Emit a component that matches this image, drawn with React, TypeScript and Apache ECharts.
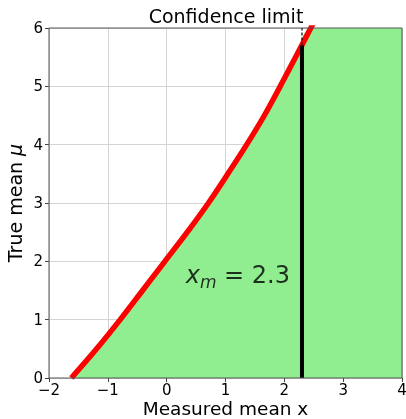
import React, { useEffect, useRef } from "react";
import * as echarts from "echarts";

// Upper confidence limit on the true mean μ as a function of measured mean x
const beltX = [-1.62, -1.19, -0.79, -0.41, -0.03, 0.35, 0.71, 1.04, 1.36, 1.66, 1.93, 2.19, 2.45, 2.65];
const beltMu = [0, 0.5, 1, 1.5, 2, 2.5, 3, 3.5, 4, 4.5, 5, 5.5, 6, 6.4];

// Measured value and where its vertical line meets the belt
const xm = 2.3;
const muAtXm = 5.7;

const xTicks = [-2, -1, 0, 1, 2, 3, 4];
const yTicks = [0, 1, 2, 3, 4, 5, 6];

const FONT = "DejaVu Sans";

export default function App() {
  const ref = useRef<HTMLDivElement>(null);

  useEffect(() => {
    if (!ref.current) return;
    const chart = echarts.init(ref.current, undefined, { renderer: "svg" });

    const curve = beltX.map((x, i) => [x, beltMu[i]]);
    const xMin = xTicks[0];
    const xMax = xTicks[xTicks.length - 1];
    const yMin = yTicks[0];
    const yMax = yTicks[yTicks.length - 1];

    // shaded region: under the belt, capped at the top of the plot
    const inside = curve.filter((p) => p[1] <= yMax);
    const area = [...inside, [xMax, yMax]];

    const minus = (v: number) => String(v).replace("-", "\u2212");

    chart.setOption({
      animation: false,
      title: {
        text: "Confidence limit",
        left: 221,
        top: 1,
        textAlign: "center",
        textStyle: { fontFamily: FONT, fontSize: 19, fontWeight: "normal", color: "#000" },
      },
      grid: {
        left: 49,
        right: 4,
        top: 28,
        bottom: 41,
        outerBoundsMode: "none",
        containLabel: false,
        show: true,
        z: 10,
        borderColor: "#555",
        borderWidth: 1,
        backgroundColor: "transparent",
      },
      xAxis: {
        type: "value",
        min: xMin,
        max: xMax,
        interval: 1,
        name: "Measured mean x",
        nameLocation: "middle",
        nameGap: 20.5,
        nameMoveOverlap: false,
        nameTextStyle: {
          fontFamily: FONT,
          fontSize: 18.5,
          lineHeight: 19,
          color: "#000",
          verticalAlign: "top",
        },
        axisLine: { show: false, onZero: false },
        axisTick: { show: true, length: 4, lineStyle: { color: "#444" } },
        axisLabel: {
          fontFamily: FONT,
          fontSize: 15,
          lineHeight: 16,
          color: "#000",
          margin: 3.5,
          formatter: minus,
        },
        splitLine: { show: true, lineStyle: { color: "#d4d4d4", width: 1 } },
      },
      yAxis: {
        type: "value",
        min: yMin,
        max: yMax,
        interval: 1,
        name: "True mean {mu|\u03bc}",
        nameLocation: "middle",
        nameGap: 25,
        nameMoveOverlap: false,
        nameTextStyle: {
          fontFamily: FONT,
          fontSize: 19,
          color: "#000",
          rich: {
            mu: { fontFamily: FONT, fontSize: 19, fontStyle: "italic", color: "#000" },
          },
        },
        axisLine: { show: false, onZero: false },
        axisTick: { show: true, length: 4, lineStyle: { color: "#444" } },
        axisLabel: {
          fontFamily: FONT,
          fontSize: 15,
          lineHeight: 16,
          color: "#000",
          margin: 6,
          formatter: minus,
        },
        splitLine: { show: true, lineStyle: { color: "#d4d4d4", width: 1 } },
      },
      series: [
        {
          type: "line",
          data: area,
          smooth: 0.3,
          symbol: "none",
          lineStyle: { width: 0 },
          areaStyle: { color: "#90ee90", opacity: 1 },
          z: 2,
        },
        {
          type: "line",
          data: curve,
          smooth: 0.3,
          symbol: "none",
          clip: true,
          lineStyle: { color: "#ff0000", width: 5.5 },
          z: 3,
        },
        {
          type: "line",
          data: [
            [xm, yMin],
            [xm, muAtXm],
          ],
          symbol: "none",
          lineStyle: { color: "#000", width: 4, cap: "butt" },
          z: 4,
        },
        {
          type: "line",
          data: [
            [xm, muAtXm],
            [xm, yMax],
          ],
          symbol: "none",
          lineStyle: { color: "#000", width: 1.2, type: [3, 2] },
          z: 4,
        },
        {
          type: "scatter",
          data: [[1.21, 1.76]],
          symbolSize: 0,
          z: 5,
          label: {
            show: true,
            position: "inside",
            formatter: `{x|x}{m|m}{eq| = ${xm}}`,
            rich: {
              x: { fontFamily: FONT, fontStyle: "italic", fontSize: 24, color: "#000" },
              m: {
                fontFamily: FONT,
                fontStyle: "italic",
                fontSize: 17,
                color: "#000",
                padding: [14, 0, 0, 0],
              },
              eq: { fontFamily: FONT, fontSize: 24, color: "#000" },
            },
          },
        },
      ],
    });

    return () => chart.dispose();
  }, []);

  return (
    <div
      ref={ref}
      style={{ position: "fixed", left: 0, top: 0, width: 406, height: 419 }}
    />
  );
}
